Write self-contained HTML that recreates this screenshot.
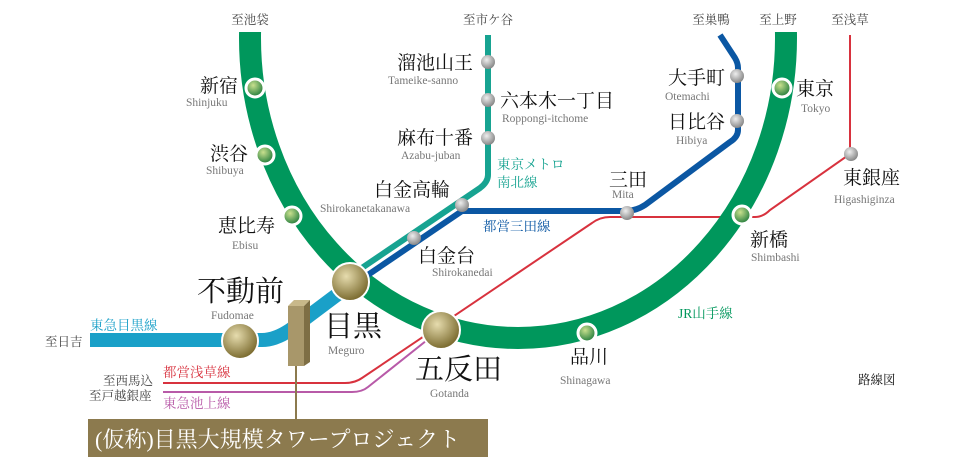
<!DOCTYPE html>
<html><head><meta charset="utf-8"><style>
html,body{margin:0;padding:0;background:#fff;}
svg{display:block}
.k{font-family:"Liberation Serif","Noto Serif CJK SC",serif;fill:#111;}
.r{font-family:"Liberation Serif",serif;fill:#777;font-size:11.5px;}
.d{font-family:"Liberation Serif","Noto Serif CJK SC",serif;fill:#444;font-size:12.5px;}
</style></head><body>
<svg width="960" height="457" viewBox="0 0 960 457">
<defs>
<radialGradient id="gg" cx="40%" cy="35%" r="65%"><stop offset="0" stop-color="#c9e08e"/><stop offset="1" stop-color="#1f7a3a"/></radialGradient>
<radialGradient id="au" cx="40%" cy="35%" r="65%"><stop offset="0" stop-color="#e6dcae"/><stop offset="1" stop-color="#7a6a2e"/></radialGradient>
<radialGradient id="gr" cx="40%" cy="35%" r="65%"><stop offset="0" stop-color="#eee"/><stop offset="1" stop-color="#888"/></radialGradient>
<clipPath id="cl"><rect x="0" y="32" width="960" height="425"/></clipPath>
</defs>
<!-- Asakusa red -->
<path d="M850,35 V154 L770,210 Q763,217 755,217 H610 Q600,217 592,223 L362,378 Q355,383 345,383 H163" fill="none" stroke="#d8323e" stroke-width="2"/>
<!-- Ikegami pink -->
<path d="M441,329 L368,387 Q362,392 352,392 H163" fill="none" stroke="#b85aa8" stroke-width="2"/>
<!-- JR loop -->
<ellipse cx="518" cy="38" rx="268" ry="300" fill="none" stroke="#00975c" stroke-width="22" clip-path="url(#cl)"/>
<!-- Meguro line -->
<path d="M90,340 H240 L262,340 Q275,340 290,330 L350,285" fill="none" stroke="#1aa0c8" stroke-width="14"/>
<!-- Namboku -->
<path d="M488,35 V175 Q488,182 480,188 L350,276" fill="none" stroke="#17a391" stroke-width="6"/>
<!-- Mita -->
<path d="M720,35 L735,58 Q738,63 738,68 V130 Q738,137 730,142 L645,205 Q636,211 625,211 H462 L356,283" fill="none" stroke="#0b57a3" stroke-width="6"/>
<!-- JR stations -->
<g stroke="#fff" stroke-width="3" fill="url(#gg)">
<circle cx="255" cy="88" r="9"/><circle cx="265" cy="155" r="9"/><circle cx="292" cy="216" r="9"/>
<circle cx="587" cy="333" r="9"/><circle cx="742" cy="215" r="9"/><circle cx="782" cy="88" r="9"/>
</g>
<!-- gray stations -->
<g fill="url(#gr)">
<circle cx="488" cy="62" r="7"/><circle cx="488" cy="100" r="7"/><circle cx="488" cy="138" r="7"/>
<circle cx="737" cy="76" r="7"/><circle cx="737" cy="121" r="7"/>
<circle cx="462" cy="205" r="7"/><circle cx="414" cy="238" r="7"/>
<circle cx="627" cy="213" r="7"/><circle cx="851" cy="154" r="7"/>
</g>
<!-- gold stations -->
<g stroke="#fff" stroke-width="2" fill="url(#au)">
<circle cx="350" cy="282" r="19"/><circle cx="441" cy="330" r="19"/><circle cx="240" cy="341" r="18"/>
</g>
<!-- tower -->
<polygon points="288,306 294,300 310,300 304,306" fill="#c8b88a"/>
<rect x="288" y="306" width="16" height="60" fill="#a8976a"/>
<polygon points="304,306 310,300 310,362 304,366" fill="#7e6e44"/>
<line x1="296" y1="366" x2="296" y2="420" stroke="#8c7a4e" stroke-width="2"/>
<rect x="88" y="419" width="400" height="38" fill="#8c7a4e"/>
<text x="95" y="447" font-size="22" fill="#fff" font-family="Liberation Serif,Noto Serif CJK JP,serif">(仮称)目黒大規模タワープロジェクト</text>
<!-- direction labels -->
<text class="d" x="250" y="24" text-anchor="middle">至池袋</text>
<text class="d" x="488" y="24" text-anchor="middle">至市ケ谷</text>
<text class="d" x="711" y="24" text-anchor="middle">至巣鴨</text>
<text class="d" x="778" y="24" text-anchor="middle">至上野</text>
<text class="d" x="850" y="24" text-anchor="middle">至浅草</text>
<text class="d" x="45" y="346">至日吉</text>
<text class="d" x="103" y="385">至西馬込</text>
<text class="d" x="89" y="400">至戸越銀座</text>
<text class="d" x="858" y="384" style="fill:#111">路線図</text>
<!-- line labels -->
<g font-family="Liberation Serif,Noto Serif CJK SC,serif" font-size="13.5">
<text x="90" y="330" fill="#1aa0c8">東急目黒線</text>
<text x="163" y="377" fill="#d8323e">都営浅草線</text>
<text x="163" y="408" fill="#b85aa8">東急池上線</text>
<text x="497" y="169" fill="#17a391">東京メトロ</text>
<text x="497" y="187" fill="#17a391">南北線</text>
<text x="483" y="231" fill="#0b57a3">都営三田線</text>
<text x="678" y="318" fill="#00975c">JR山手線</text>
</g>
<!-- station names -->
<g class="k" font-size="19">
<text x="200" y="92">新宿</text><text x="210" y="160">渋谷</text><text x="218" y="232">恵比寿</text>
<text x="397" y="69">溜池山王</text><text x="500" y="107">六本木一丁目</text><text x="397" y="144">麻布十番</text>
<text x="374" y="196">白金高輪</text><text x="418" y="262">白金台</text><text x="609" y="186">三田</text>
<text x="668" y="84">大手町</text><text x="668" y="128">日比谷</text><text x="796" y="95">東京</text>
<text x="843" y="184">東銀座</text><text x="750" y="246">新橋</text><text x="570" y="363">品川</text>
</g>
<g class="k" font-size="29">
<text x="197" y="301">不動前</text><text x="324" y="336">目黒</text><text x="415" y="379">五反田</text>
</g>
<text class="r" x="186" y="106">Shinjuku</text><text class="r" x="206" y="174">Shibuya</text><text class="r" x="232" y="249">Ebisu</text>
<text class="r" x="388" y="84">Tameike-sanno</text><text class="r" x="502" y="122">Roppongi-itchome</text><text class="r" x="401" y="159">Azabu-juban</text>
<text class="r" x="320" y="212">Shirokanetakanawa</text><text class="r" x="432" y="276">Shirokanedai</text><text class="r" x="612" y="198">Mita</text>
<text class="r" x="665" y="100">Otemachi</text><text class="r" x="676" y="144">Hibiya</text><text class="r" x="801" y="112">Tokyo</text>
<text class="r" x="834" y="203">Higashiginza</text><text class="r" x="751" y="261">Shimbashi</text><text class="r" x="560" y="384">Shinagawa</text>
<text class="r" x="211" y="319">Fudomae</text><text class="r" x="328" y="354">Meguro</text><text class="r" x="430" y="397">Gotanda</text>
</svg>
</body></html>
